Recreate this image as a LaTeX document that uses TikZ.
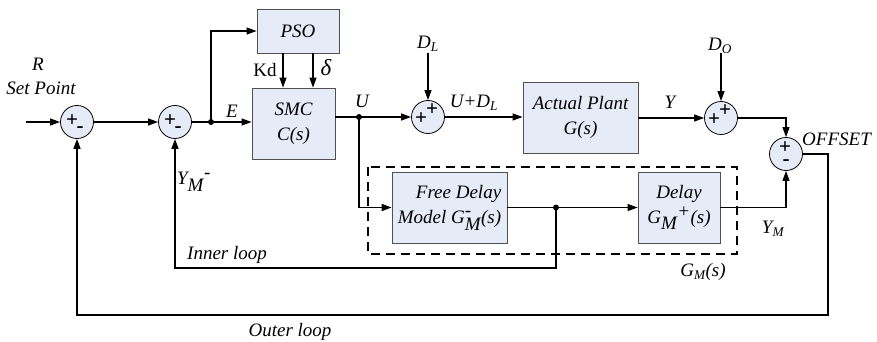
\documentclass[tikz,border=0pt]{standalone}
\usepackage{fontspec}
\setmainfont{Liberation Serif}
\usetikzlibrary{arrows.meta,calc}
\definecolor{boxfill}{RGB}{230,236,247}
\definecolor{boxline}{RGB}{80,80,80}
\newcommand{\tx}[1]{\mbox{#1}}
\begin{document}
\begin{tikzpicture}[x=1pt,y=-1pt,
  every node/.style={font=\fontsize{19}{21}\selectfont\itshape, inner sep=0pt},
  blk/.style={draw=boxline, line width=0.8pt, fill=boxfill, align=center, font=\fontsize{19}{25}\selectfont\itshape},
  sumc/.style={draw=black, line width=0.8pt, fill=boxfill, circle, minimum size=33pt},
  sgn/.style={font=\fontsize{21}{21}\selectfont\bfseries\upshape},
  wire/.style={line width=1.1pt},
  loopw/.style={line width=1.6pt},
  arr/.style={-{Triangle[length=10pt,width=7pt]}},
  dotn/.style={circle, fill=black, minimum size=6pt}]
\useasboundingbox (0,0) rectangle (877,342);

% summing junctions
\node[sumc] (s1) at (77,122) {};
\node[sumc] (s2) at (175,122) {};
\node[sumc] (s3) at (428,117) {};
\node[sumc] (s4) at (721,118) {};
\node[sumc] (s5) at (786,154) {};
\node[sgn] (s1p) at ($(s1)+(-5,-1)$) {+};
\node[sgn] (s1m) at ($(s1)+(3,8)$) {-};
\node[sgn] (s2p) at ($(s2)+(-5,-1)$) {+};
\node[sgn] (s2m) at ($(s2)+(3,8)$) {-};
\node[sgn] (s3p) at ($(s3)+(-7,2)$) {+};
\node[sgn] (s3q) at ($(s3)+(4,-7)$) {+};
\node[sgn] (s4p) at ($(s4)+(-7,2)$) {+};
\node[sgn] (s4q) at ($(s4)+(4,-7)$) {+};
\node[sgn] (s5p) at ($(s5)+(-1,-6)$) {+};
\node[sgn] (s5m) at ($(s5)+(0,9)$) {-};

% blocks
\node[blk, minimum width=82pt, minimum height=44pt] (pso) at (298,31) {PSO};
\node[blk, minimum width=83pt, minimum height=71pt] (smc) at (293.5,123.5) {SMC\\C(s)};
\node[blk, minimum width=115pt, minimum height=71pt] (plant) at (580.5,117.5) {Actual Plant\\G(s)};
\node[blk, minimum width=115pt, minimum height=71pt, align=right] (free) at (449.5,207.5) {Free Delay\\Model $\textit{G}_{\textit{M}}^{\tx{-}}$(s)};
\node[blk, minimum width=82pt, minimum height=71pt] (delay) at (679,207.5) {Delay\\$\textit{G}_{\textit{M}}{}^{\tx{+}}$(s)};

% dashed model box
\draw[line width=1.1pt, dash pattern=on 9pt off 6pt] (368,167) rectangle (737,254);

% dots and coordinates
\node[dotn] (d1) at (211,122) {};
\node[dotn] (dU) at (359,117) {};
\node[dotn] (dM) at (556,207.5) {};
\coordinate (in) at (26,122);
\coordinate (dl) at (428,53);
\coordinate (do) at (721,53);
\coordinate (or) at (828,154);
\coordinate (ob) at (828,315);
\coordinate (ib) at (556,268);

% forward path
\draw[wire, arr] (in) -- (s1.west);
\draw[wire, arr] (s1.east) -- (s2.west);
\draw[wire] (s2.east) -- (d1.center);
\draw[wire, arr] (d1.center) -- (d1 -| smc.west);
\draw[wire, arr] (d1.center) |- (pso.west);
\draw[wire, arr] ($(pso.south)+(-15,0)$) -- ($(smc.north)+(-10.5,0)$);
\draw[wire, arr] ($(pso.south)+(15,0)$) -- ($(smc.north)+(19.5,0)$);
\draw[wire] (dU -| smc.east) -- (dU.center);
\draw[wire, arr] (dU.center) -- (s3.west);
\draw[wire, arr] (dl) -- (s3.north);
\draw[wire, arr] (s3.east) -- (s3 -| plant.west);
\draw[wire, arr] (s4 -| plant.east) -- (s4.west);
\draw[wire, arr] (do) -- (s4.north);
\draw[wire, arr] (s4.east) -| (s5.north);

% model path
\draw[loopw, arr] (dU.center) |- (free.west);
\draw[wire] (free.east) -- (dM.center);
\draw[wire, arr] (dM.center) -- (delay.west);
\draw[wire, arr] (delay.east) -| (s5.south);

% loops
\draw[loopw, arr] (dM.center) -- (ib) -| (s2.south);
\draw[loopw, arr] (s5.east) -- (or) -- (ob) -| (s1.south);

% labels
\node (lR) at (38,64) {R};
\node (lSP) at (41,88) {Set Point};
\node (lE) at (232,111) {E};
\node (lKd) at (265,70) {\upshape Kd};
\node (ld) at (326,68) {\fontsize{23}{23}\selectfont δ};
\node (lU) at (362,101) {U};
\node (lUDL) at (474,103) {U+D\textsubscript{L}};
\node (lDL) at (428,44) {D\textsubscript{L}};
\node (lDO) at (720,46) {D\textsubscript{O}};
\node (lY) at (670,102) {Y};
\node[anchor=west] (lOFF) at (802,139) {OFFSET};
\node (lYMm) at (194,182) {$\textit{Y}_{\textit{M}}{}^{\tx{-}}$};
\node (lYM) at (773,229) {Y\textsubscript{M}};
\node[anchor=west] (lIn) at (187,255) {Inner loop};
\node (lGM) at (703,272) {G\textsubscript{M}(s)};
\node (lOut) at (290,332) {Outer loop};
\end{tikzpicture}
\end{document}
